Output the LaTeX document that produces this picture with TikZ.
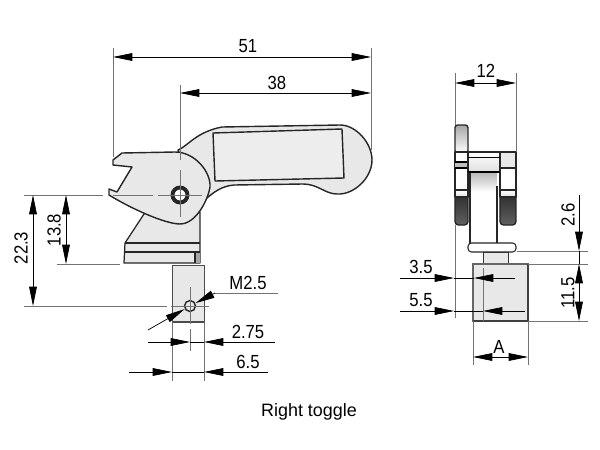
\documentclass[tikz,border=0pt]{standalone}
\usepackage{fontspec}
\setmainfont{Liberation Sans}
\usetikzlibrary{arrows.meta}
\definecolor{partfill}{gray}{0.91}
\definecolor{extgray}{gray}{0.45}
\tikzset{
    outline/.style = {draw = black!85, line width = 0.8pt, line join = round},
    extline/.style = {draw = extgray, line width = 0.45pt},
    centerline/.style = {draw = extgray, line width = 0.45pt},
    dimline/.style = {draw = black, line width = 0.4pt},
    dimtip/.style = {-{Triangle[length = 11pt, width = 4.4pt]}, draw = black, line width = 0.4pt},
    dimboth/.style = {{Triangle[length = 11pt, width = 4.4pt]}-{Triangle[length = 11pt, width = 4.4pt]}, draw = black, line width = 0.4pt},
    dimtext/.style = {font = \fontsize{10.8}{12}\selectfont, inner sep = 0pt, rotate = #1, xscale = 0.88},
    dimtext/.default = 0,
}
\begin{document}
\begin{tikzpicture}[x = 0.02cm, y = -0.02cm]
    \useasboundingbox (0, 0) rectangle (600, 450);

    % front view, handle
    \draw [outline, fill = partfill] (178, 150)
        .. controls (188, 146) and (196, 132) .. (222, 127)
        -- (340, 125)
        .. controls (356, 125) and (372, 143) .. (372, 160)
        .. controls (372, 178) and (354, 195) .. (337, 194)
        .. controls (325, 194) and (318, 184) .. (303, 184)
        -- (234, 185)
        .. controls (222, 186) and (214, 192) .. (207, 198)
        -- (190, 180) -- cycle;
    \draw [outline, fill = partfill!80!white] (213, 133) -- (342, 129) -- (344, 178) -- (215, 181) -- cycle;
    \draw [line width = 0.4pt] (208, 183) -- (208, 193);

    % front view, base under the jaw
    \draw [outline, line width = 0.7pt, fill = partfill] (146, 211) -- (125, 243) -- (124, 263) -- (200, 263) -- (200, 212) -- cycle;
    \fill [gray!70] (195, 252) rectangle (200, 263);
    \draw [outline, line width = 0.6pt] (125, 243) -- (200, 243);
    \draw [outline, line width = 0.6pt] (124, 252) -- (200, 252);
    \draw [outline, line width = 0.6pt] (195, 252) -- (195, 263);

    % front view, jaw
    \draw [outline, fill = partfill] (122, 153) -- (175, 152)
        .. controls (195, 152) and (211, 172) .. (210, 187)
        .. controls (208, 200) and (196, 224) .. (180, 224)
        .. controls (165, 224) and (130, 208) .. (109, 195)
        -- (109, 189) -- (117, 192) -- (132, 167) -- (113, 165) -- (113, 160) -- cycle;

    % front view, stud
    \draw [line width = 0.5pt, draw = black!70, fill = partfill] (172, 265) rectangle (204, 322);
    \draw [line width = 1pt, draw = black!70] (172, 322) -- (204, 322);

    % holes
    \node [circle, draw = black!85, line width = 2.2pt, fill = white, minimum size = 0.3cm, inner sep = 0pt] (pivot) at (180, 195) {};
    \node [circle, draw = black!85, line width = 0.8pt, fill = partfill, minimum size = 0.22cm, inner sep = 0pt] (hole) at (190, 306) {};

    % centre lines
    \draw [centerline] (113, 195) -- (153, 195);
    \draw [centerline] (158, 195) -- (202, 195);
    \draw [centerline] (180, 170) -- (180, 217);
    \draw [centerline] (190, 287) -- (190, 324);
    \draw [centerline] (190, 329) -- (190, 351);
    \draw [centerline] (171, 306) -- (209, 306);

    % side view, toggle
    \draw [outline, top color = black!85, bottom color = black!62, rounded corners = 2pt] (455, 190) -- (468, 190) -- (468, 225) -- (455, 225) -- cycle;
    \draw [outline, top color = black!85, bottom color = black!62, rounded corners = 2pt] (500, 190) -- (516, 190) -- (516, 225) -- (500, 225) -- cycle;
    \draw [outline, top color = gray!70, bottom color = white, rounded corners = 1.5pt] (455, 125) -- (468, 125) -- (468, 153) -- (455, 153) -- cycle;
    \draw [outline, line width = 0.6pt, fill = white] (455, 152) rectangle (468, 190);
    \fill [gray!50] (455, 162) rectangle (468, 168);
    \draw [line width = 0.7pt] (455, 162) -- (468, 162);
    \draw [line width = 0.7pt] (455, 168) -- (468, 168);
    \draw [outline, line width = 0.6pt, fill = white] (500, 168) rectangle (516, 190);
    \draw [outline, line width = 0.6pt, top color = white, bottom color = gray!25] (455, 190) rectangle (468, 197);
    \draw [outline, line width = 0.6pt, top color = white, bottom color = gray!25] (500, 190) rectangle (516, 197);
    \draw [outline, line width = 0.6pt, fill = partfill] (500, 152) rectangle (516, 168);
    \shade [top color = gray!55, bottom color = white] (470, 173) rectangle (497, 192);
    \draw [outline, line width = 0.6pt, top color = white, bottom color = gray!25] (468, 152) rectangle (500, 172);
    \draw [line width = 0.4pt] (468, 157) -- (500, 157);
    \draw [line width = 1.2pt] (468, 172) -- (500, 172);
    \draw [outline, line width = 0.6pt] (470, 173) -- (470, 244);
    \draw [outline, line width = 1.1pt] (497, 186) -- (497, 244);

    % side view, flange and neck
    \draw [outline, line width = 0.6pt, rounded corners = 2pt, fill = white] (468, 243) rectangle (516, 252);
    \draw [draw = black!80, line width = 0.5pt, fill = partfill] (483, 252) rectangle (508, 265);

    % side view, block
    \draw [draw = black!60, line width = 1pt, fill = partfill] (473, 264) rectangle (528, 321);
    \draw [draw = black!75, line width = 1.5pt] (528, 264) -- (528, 321) -- (473, 321);

    % extension lines
    \draw [extline] (113, 48) -- (113, 157);
    \draw [extline] (371, 48) -- (371, 150);
    \draw [extline] (180, 85) -- (180, 160);
    \draw [extline] (24, 195) -- (103, 195);
    \draw [extline] (24, 306) -- (167, 306);
    \draw [extline] (57, 264) -- (120, 264);
    \draw [extline] (172, 322) -- (172, 381);
    \draw [extline] (204, 322) -- (204, 381);
    \draw [extline] (455, 73) -- (455, 125);
    \draw [extline] (455, 225) -- (455, 318);
    \draw [extline] (516, 73) -- (516, 152);
    \draw [extline] (517, 251) -- (588, 251);
    \draw [extline] (528, 264) -- (588, 264);
    \draw [extline] (528, 321) -- (588, 321);
    \draw [extline] (473, 321) -- (473, 365);
    \draw [extline] (528, 321) -- (528, 365);
    \draw [extline] (483, 268) -- (483, 321);
    \draw [extline] (215, 293) -- (278, 293);

    % dimensions
    \coordinate (w51l) at (113, 57);
    \coordinate (w51r) at (371, 57);
    \coordinate (w38l) at (180, 93);
    \coordinate (w38r) at (371, 93);
    \coordinate (h22t) at (33, 195);
    \coordinate (h22b) at (33, 306);
    \coordinate (h13t) at (66, 195);
    \coordinate (h13b) at (66, 264);
    \coordinate (w12l) at (455, 83);
    \coordinate (w12r) at (516, 83);
    \coordinate (wAl) at (473, 357);
    \coordinate (wAr) at (528, 357);
    \coordinate (h11t) at (579, 264);
    \coordinate (h11b) at (579, 321);
    \draw [dimboth] (w51l) -- (w51r);
    \draw [dimboth] (w38l) -- (w38r);
    \draw [dimboth] (h22t) -- (h22b);
    \draw [dimboth] (h13t) -- (h13b);
    \draw [dimboth] (w12l) -- (w12r);
    \draw [dimboth] (wAl) -- (wAr);
    \draw [dimboth] (h11t) -- (h11b);

    % dimensions with the tips outside
    \coordinate (d275a) at (148, 342);
    \coordinate (d275b) at (190, 342);
    \coordinate (d275c) at (275, 342);
    \coordinate (d275d) at (204, 342);
    \draw [dimline] (d275b) -- (d275d);
    \draw [dimtip] (d275a) -- (d275b);
    \draw [dimtip] (d275c) -- (d275d);
    \coordinate (d65a) at (129, 372);
    \coordinate (d65b) at (172, 372);
    \coordinate (d65c) at (268, 372);
    \coordinate (d65d) at (204, 372);
    \draw [dimline] (d65b) -- (d65d);
    \draw [dimtip] (d65a) -- (d65b);
    \draw [dimtip] (d65c) -- (d65d);
    \coordinate (d26a) at (579, 195);
    \coordinate (d26b) at (579, 251);
    \draw [dimtip] (d26a) -- (d26b);
    \draw [dimline] (d26b) -- (h11t);
    \coordinate (d35a) at (400, 278);
    \coordinate (d35b) at (454, 278);
    \coordinate (d35c) at (515, 278);
    \coordinate (d35d) at (474, 278);
    \draw [dimline] (d35b) -- (d35d);
    \draw [dimtip] (d35a) -- (d35b);
    \draw [dimtip] (d35c) -- (d35d);
    \coordinate (d55a) at (400, 311);
    \coordinate (d55b) at (454, 311);
    \coordinate (d55c) at (525, 311);
    \coordinate (d55d) at (483, 311);
    \draw [dimline] (d55b) -- (d55d);
    \draw [dimtip] (d55a) -- (d55b);
    \draw [dimtip] (d55c) -- (d55d);

    % thread leader
    \coordinate (m25a) at (148, 330);
    \coordinate (m25b) at (215, 293);
    \draw [dimtip] (m25a) -- (hole);
    \draw [dimtip] (m25b) -- (hole);

    % labels
    \node [dimtext] (t51) at (248, 46) {51};
    \node [dimtext] (t38) at (277, 83) {38};
    \node [dimtext = 90] (t223) at (21, 248) {22.3};
    \node [dimtext = 90] (t138) at (54, 230) {13.8};
    \node [dimtext] (tm25) at (248, 283) {M2.5};
    \node [dimtext] (t275) at (248, 332) {2.75};
    \node [dimtext] (t65) at (248, 362) {6.5};
    \node [dimtext] (t12) at (486, 71) {12};
    \node [dimtext = 90] (t26) at (568, 215) {2.6};
    \node [dimtext = 90] (t115) at (568, 293) {11.5};
    \node [dimtext] (t3p5) at (421, 267) {3.5};
    \node [dimtext] (t5p5) at (421, 300) {5.5};
    \node [dimtext] (tA) at (499, 347) {A};
    \node [inner sep = 0pt, font = \fontsize{10.2}{12}\selectfont] (caption) at (309, 412) {Right toggle};
\end{tikzpicture}
\end{document}
